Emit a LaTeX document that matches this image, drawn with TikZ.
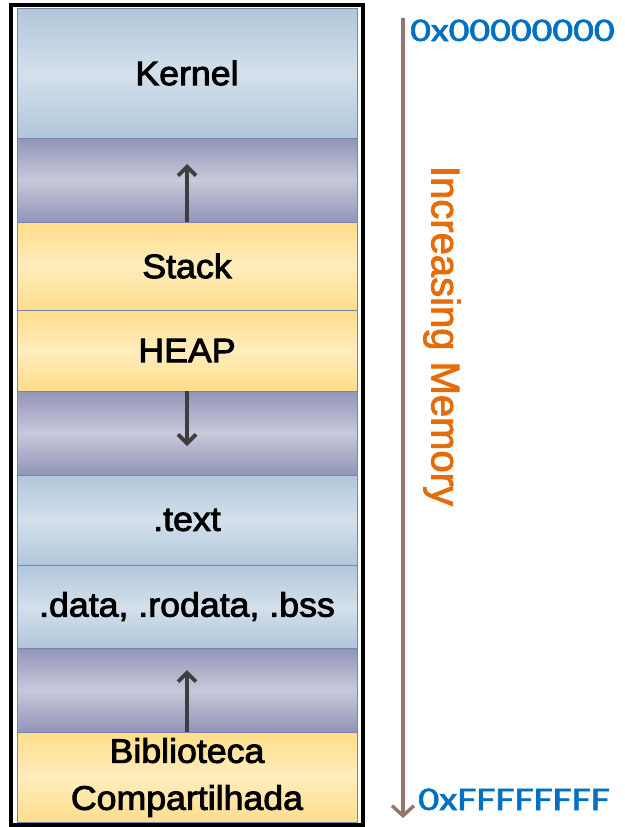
\documentclass[tikz,border=0pt]{standalone}
\usepackage{fontspec}
\setmainfont{Liberation Sans}
\newfontfamily\bandfont{Liberation Sans}[FakeBold=2.5]
\newfontfamily\memfont{Liberation Sans}[FakeBold=2.2]
\newfontfamily\hexfont{Carlito}[FakeBold=1.6]
\usetikzlibrary{arrows.meta}
\definecolor{blueA}{RGB}{176,198,218}
\definecolor{blueB}{RGB}{212,224,235}
\definecolor{purA}{RGB}{146,148,184}
\definecolor{purB}{RGB}{200,201,218}
\definecolor{yelA}{RGB}{255,221,138}
\definecolor{yelB}{RGB}{255,237,190}
\definecolor{bandline}{RGB}{120,132,170}
\definecolor{hexblue}{RGB}{0,112,192}
\definecolor{memorange}{RGB}{228,108,10}
\definecolor{axisbrown}{RGB}{148,118,108}
\definecolor{arrowgray}{RGB}{62,62,62}
\tikzset{
  band/.style={draw=bandline, line width=0.6pt, minimum width=340pt, inner sep=0pt,
    font=\bandfont\fontsize{34}{47}\selectfont, text=black, align=center},
  blueband/.style={band, top color=blueA, bottom color=blueA, middle color=blueB},
  purband/.style={band, top color=purA, bottom color=purA, middle color=purB},
  yelband/.style={band, top color=yelA, bottom color=yelA, middle color=yelB},
  growarrow/.style={draw=arrowgray, line width=3.8pt, -{Straight Barb[length=9pt,width=18pt,line width=3.8pt]}},
  hexlabel/.style={text=hexblue, inner sep=0pt, anchor=base west, font=\hexfont\fontsize{33}{33}\selectfont},
}
\begin{document}
\begin{tikzpicture}[x=1pt,y=-1pt]
\useasboundingbox (0,0) rectangle (624,827);
% bands
\node[blueband, minimum height=130pt] (kernel) at (187,73) {\scalebox{1.05}[1]{Kernel}};
\node[purband, minimum height=84pt] (gap1) at (187,180) {};
\node[yelband, minimum height=88pt] (stack) at (187,266) {\scalebox{1.05}[1]{Stack}};
\node[yelband, minimum height=81pt] (heap) at (187,350.5) {\scalebox{1.05}[1]{HEAP}};
\node[purband, minimum height=84pt] (gap2) at (187,433) {};
\node[blueband, minimum height=90pt] (text) at (187,520) {\scalebox{1.05}[1]{.text}};
\node[blueband, minimum height=83pt] (data) at (187,606.5) {\scalebox{1.05}[1]{.data, .rodata, .bss}};
\node[purband, minimum height=84pt] (gap3) at (187,690) {};
\node[yelband, minimum height=90pt] (lib) at (187,777.5) {\scalebox{1.05}[1]{Biblioteca}\\\scalebox{1.05}[1]{Compartilhada}};
% outer frame
\draw[line width=4pt, black] (11,5) rectangle (363,825);
% growth arrows
\coordinate (a1) at (187,164);
\coordinate (a2) at (187,446);
\coordinate (a3) at (187,670);
\draw[growarrow] (stack.north) -- (a1);
\draw[growarrow] (heap.south) -- (a2);
\draw[growarrow] (lib.north) -- (a3);
% memory axis
\coordinate (axtop) at (403,18);
\coordinate (axbot) at (403,818);
\draw[draw=axisbrown, line width=3.4pt, -{Straight Barb[length=10pt,width=22pt,line width=3.4pt]}] (axtop) -- (axbot);
\node[hexlabel] (lowaddr) at (410,41) {\scalebox{1.24}[1]{0x00000000}};
\node[hexlabel] (highaddr) at (418,810) {\scalebox{1.26}[1]{0xFFFFFFFF}};
\node[text=memorange, rotate=-90, inner sep=0pt, font=\memfont\fontsize{40}{40}\selectfont] (incmem) at (442,336) {Increasing Memory};
\end{tikzpicture}
\end{document}
